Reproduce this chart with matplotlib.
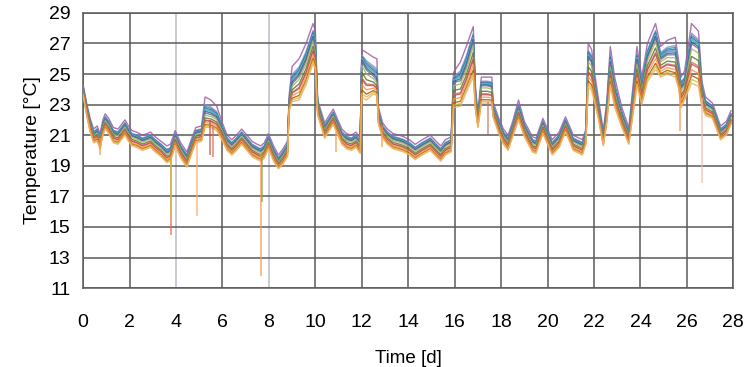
import numpy as np
import matplotlib
matplotlib.use("Agg")
import matplotlib.pyplot as plt

plt.rcParams['font.family'] = ['Liberation Sans', 'DejaVu Sans']

# time nodes [d] and readings of the sensor band (middle, top, bottom) [degC]
day = [0.0, 0.15, 0.3, 0.45, 0.6, 0.73, 0.85, 0.95, 1.1, 1.3,
       1.5, 1.7, 1.8, 1.95, 2.1, 2.3, 2.55, 2.75, 2.9, 3.1,
       3.35, 3.6, 3.75, 3.85, 3.96, 4.2, 4.47, 4.7, 4.85, 5.1,
       5.25, 5.5, 5.75, 5.97, 6.2, 6.4, 6.6, 6.83, 7.05, 7.27,
       7.5, 7.65, 7.8, 7.98, 8.2, 8.41, 8.6, 8.8, 8.87, 9.0,
       9.3, 9.6, 9.9, 10.0, 10.1, 10.4, 10.6, 10.77, 11.0, 11.14,
       11.35, 11.55, 11.75, 11.93, 12.0, 12.2, 12.5, 12.65, 12.72, 12.9,
       13.1, 13.35, 13.6, 13.8, 14.05, 14.3, 14.6, 14.95, 15.2, 15.4,
       15.6, 15.85, 15.95, 16.25, 16.5, 16.8, 16.9, 17.0, 17.15, 17.4,
       17.6, 17.65, 17.9, 18.1, 18.3, 18.5, 18.75, 19.0, 19.35, 19.5,
       19.8, 20.0, 20.2, 20.5, 20.77, 21.0, 21.1, 21.5, 21.65, 21.75,
       21.9, 22.05, 22.2, 22.4, 22.55, 22.7, 22.9, 23.2, 23.5, 23.7,
       23.85, 24.06, 24.3, 24.65, 24.87, 25.15, 25.5, 25.65, 25.75, 25.9,
       26.2, 26.5, 26.65, 26.8, 27.1, 27.45, 27.7, 27.9]

t_mid = [24.0, 22.8, 21.8, 21.0, 21.2, 20.7, 21.6, 22.0, 21.7, 21.1,
         21.0, 21.4, 21.6, 21.2, 20.9, 20.8, 20.6, 20.7, 20.8, 20.5,
         20.2, 19.8, 19.9, 20.3, 20.9, 20.1, 19.5, 20.5, 21.1, 21.2,
         22.4, 22.3, 22.1, 21.4, 20.6, 20.3, 20.6, 21.0, 20.6, 20.2,
         20.0, 19.9, 20.1, 20.7, 19.9, 19.3, 19.7, 20.2, 23.0, 24.3,
         24.8, 25.8, 27.3, 26.5, 22.9, 21.4, 21.9, 22.3, 21.5, 21.0,
         20.7, 20.6, 20.8, 20.4, 25.8, 25.2, 24.8, 24.5, 22.2, 21.4,
         21.0, 20.7, 20.6, 20.5, 20.3, 20.0, 20.3, 20.6, 20.2, 19.9,
         20.3, 20.5, 24.4, 24.5, 25.4, 27.1, 23.3, 22.0, 24.2, 24.2,
         24.1, 22.7, 21.7, 21.0, 20.6, 21.5, 22.7, 21.5, 20.5, 20.4,
         21.7, 21.0, 20.3, 20.8, 21.8, 21.0, 20.6, 20.3, 21.0, 26.0,
         25.7, 24.0, 22.6, 20.8, 22.5, 25.6, 23.8, 22.2, 21.0, 23.6,
         25.8, 24.0, 26.0, 27.3, 25.9, 26.2, 26.2, 25.0, 24.0, 24.3,
         26.9, 26.6, 23.8, 23.0, 22.7, 21.2, 21.5, 22.2]

t_top = [24.3, 23.1, 22.1, 21.4, 21.6, 21.1, 22.0, 22.4, 22.1, 21.5,
         21.4, 21.8, 22.0, 21.6, 21.3, 21.2, 21.0, 21.1, 21.2, 20.9,
         20.6, 20.3, 20.4, 20.8, 21.3, 20.5, 19.9, 20.9, 21.5, 21.6,
         23.5, 23.3, 22.9, 21.9, 21.0, 20.7, 21.0, 21.4, 21.0, 20.6,
         20.4, 20.3, 20.5, 21.1, 20.3, 19.7, 20.1, 20.6, 23.6, 25.5,
         26.0, 27.0, 28.3, 27.8, 23.3, 21.8, 22.3, 22.7, 21.9, 21.4,
         21.1, 21.0, 21.2, 20.8, 26.6, 26.4, 26.1, 26.0, 22.8, 21.8,
         21.4, 21.1, 21.0, 20.9, 20.7, 20.4, 20.7, 21.0, 20.6, 20.3,
         20.7, 20.9, 25.1, 25.8, 26.8, 28.1, 24.0, 22.5, 24.8, 24.8,
         24.8, 23.2, 22.1, 21.4, 21.0, 21.9, 23.3, 21.9, 20.9, 20.8,
         22.1, 21.4, 20.7, 21.2, 22.2, 21.4, 21.0, 20.7, 21.4, 27.0,
         26.6, 24.8, 23.3, 21.3, 23.2, 26.8, 24.7, 22.8, 21.5, 24.5,
         26.8, 24.8, 27.0, 28.3, 26.8, 27.2, 27.4, 25.8, 24.8, 25.2,
         28.3, 27.8, 24.5, 23.5, 23.1, 21.6, 21.9, 22.6]

t_low = [23.6, 22.3, 21.2, 20.5, 20.6, 20.1, 21.0, 21.4, 21.1, 20.5,
         20.4, 20.8, 21.0, 20.6, 20.3, 20.2, 20.0, 20.1, 20.2, 19.9,
         19.6, 19.2, 19.3, 19.7, 20.3, 19.5, 18.9, 19.9, 20.5, 20.6,
         21.5, 21.5, 21.3, 20.7, 20.0, 19.7, 20.0, 20.4, 20.0, 19.6,
         19.4, 19.3, 19.5, 20.1, 19.3, 18.8, 19.1, 19.6, 22.6, 23.2,
         23.3, 24.3, 25.7, 25.3, 22.3, 20.8, 21.3, 21.7, 20.9, 20.4,
         20.1, 20.0, 20.2, 19.8, 23.5, 23.3, 23.7, 23.6, 21.7, 20.8,
         20.4, 20.1, 20.0, 19.9, 19.7, 19.4, 19.7, 20.0, 19.6, 19.3,
         19.7, 19.9, 22.8, 22.9, 23.8, 24.8, 22.6, 21.5, 23.1, 23.1,
         23.1, 22.2, 21.1, 20.4, 20.0, 20.9, 22.0, 20.9, 19.9, 19.8,
         21.1, 20.4, 19.7, 20.2, 21.2, 20.4, 20.0, 19.7, 20.4, 24.2,
         23.9, 23.0, 22.0, 20.3, 21.8, 24.2, 22.8, 21.5, 20.4, 22.6,
         24.2, 23.0, 24.5, 25.3, 24.8, 25.0, 24.8, 24.0, 22.8, 23.3,
         24.4, 24.2, 22.8, 22.3, 22.1, 20.7, 21.0, 21.7]

# where each sensor sits in the band: +1 = top, 0 = middle, -1 = bottom
sensor_pos = [1.0, 0.55, 0.45, 0.35, 0.3, 0.25, 0.15, 0.05,
              -0.1, -0.3, -0.45, -0.5, -0.65, -0.8, -0.9, -1.0]
sensor_col = ['#A05AA8', '#729ACA', '#4F81BD', '#2C4D75', '#6FBDD1', '#4BACC6',
              '#276A7C', '#8064A2', '#9BBB59', '#5F7530', '#CD7371', '#C0504D',
              '#F79646', '#B65708', '#C5C83C', '#F9AB6B']

# short drops seen on single sensors
dip_day = [0.73, 3.77, 3.79, 4.92, 5.45, 5.6, 7.68, 7.70, 10.9, 12.87, 17.45, 25.7, 26.65]
dip_hi = [20.8, 19.6, 19.6, 20.6, 22.0, 21.6, 19.8, 19.8, 21.2, 21.6, 23.2, 24.2, 23.4]
dip_lo = [19.7, 14.5, 15.8, 15.7, 19.7, 19.6, 11.8, 16.6, 19.9, 20.2, 21.1, 21.3, 17.9]
dip_col = ['#F79646', '#E8654A', '#C5C83C', '#F9AB6B', '#C0504D', '#E8654A',
           '#F79646', '#9B9B40', '#F79646', '#F79646', '#CD7371', '#F79646', '#F4B8B0']

x = np.array(day)
mid = np.array(t_mid)
top = np.array(t_top)
low = np.array(t_low)

fig = plt.figure(figsize=(7.56, 3.67), dpi=100)
ax = fig.add_axes([0.110, 0.215, 0.860, 0.750])

grid_col = '#5a5a5a'
for v in range(0, 29, 2):
    c = '#b9bec6' if v in (4, 8) else grid_col
    ax.axvline(v, color=c, lw=1.1, zorder=1)
for v in range(11, 30, 2):
    ax.axhline(v, color=grid_col, lw=1.1, zorder=1)

for p, c in zip(sensor_pos, sensor_col):
    if p >= 0:
        y = mid + p * (top - mid)
    else:
        y = mid + p * (mid - low)
    ax.plot(x, y, color=c, lw=1.0, alpha=0.85, zorder=3)

ax.vlines(dip_day, dip_lo, dip_hi, colors=dip_col, lw=1.1, alpha=0.8, zorder=3)

ax.set_xlim(0, 28)
ax.set_ylim(11, 29)
ax.set_xticks(range(0, 29, 2))
ax.set_yticks(range(11, 30, 2))
ax.tick_params(length=0, labelsize=14, colors='black')
ax.tick_params(axis='x', pad=19)
ax.tick_params(axis='y', pad=9)
for s in ax.spines.values():
    s.set_color(grid_col)
    s.set_linewidth(1.1)

ax.set_xlabel('Time [d]', fontsize=13.5, labelpad=13)
ax.set_ylabel('Temperature [°C]', fontsize=14, labelpad=6)

fig.savefig('out.png', dpi=100)
